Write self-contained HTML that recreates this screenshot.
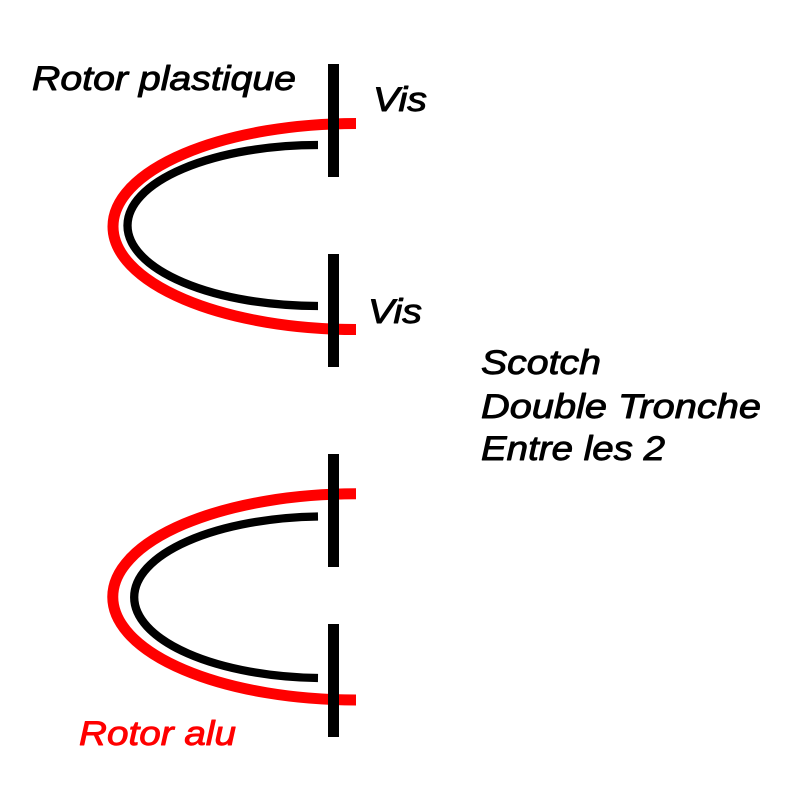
<!DOCTYPE html>
<html>
<head>
<meta charset="utf-8">
<style>
  html, body { margin: 0; padding: 0; background: #ffffff; }
  svg { display: block; }
  text { font-family: "Liberation Sans", Arial, sans-serif; font-style: italic; font-size: 34px; stroke-width: 0.9px; stroke-linejoin: round; }
</style>
</head>
<body>
<svg width="800" height="800" viewBox="0 0 800 800" xmlns="http://www.w3.org/2000/svg">
  <rect width="800" height="800" fill="#ffffff"/>

  <!-- Top figure -->
  <path d="M356,123.5 A243,103 0 0 0 356,329.5" fill="none" stroke="#ff0000" stroke-width="11"/>
  <path d="M318,145 A190.5,80.5 0 0 0 318,306" fill="none" stroke="#000000" stroke-width="8.3"/>
  <rect x="328" y="64" width="11" height="113" fill="#000000"/>
  <rect x="328" y="254" width="11" height="113" fill="#000000"/>

  <!-- Bottom figure -->
  <path d="M356,493.8 A243,103 0 0 0 356,700" fill="none" stroke="#ff0000" stroke-width="11"/>
  <path d="M318,516.5 A190.5,80.8 0 0 0 318,678" fill="none" stroke="#000000" stroke-width="8.3"/>
  <rect x="328" y="454" width="11" height="113" fill="#000000"/>
  <rect x="328" y="624" width="11" height="113" fill="#000000"/>

  <!-- Labels -->
  <text x="32" y="90" textLength="264" lengthAdjust="spacingAndGlyphs" fill="#000" stroke="#000">Rotor plastique</text>
  <text x="373" y="111" textLength="54" lengthAdjust="spacingAndGlyphs" fill="#000" stroke="#000">Vis</text>
  <text x="368" y="323" textLength="54" lengthAdjust="spacingAndGlyphs" fill="#000" stroke="#000">Vis</text>

  <text x="481" y="374" textLength="120" lengthAdjust="spacingAndGlyphs" fill="#000" stroke="#000">Scotch</text>
  <text x="481" y="418" textLength="280" lengthAdjust="spacingAndGlyphs" fill="#000" stroke="#000">Double Tronche</text>
  <text x="481" y="460" textLength="184" lengthAdjust="spacingAndGlyphs" fill="#000" stroke="#000">Entre les 2</text>

  <text x="79" y="745" textLength="157" lengthAdjust="spacingAndGlyphs" fill="#ff0000" stroke="#ff0000">Rotor alu</text>
</svg>
</body>
</html>
